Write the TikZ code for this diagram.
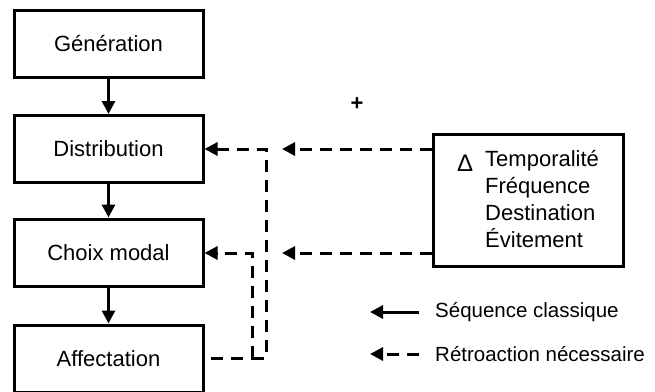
\documentclass[tikz,border=0pt]{standalone}
\usepackage{fontspec}
\setmainfont{Liberation Sans}
\usetikzlibrary{arrows.meta}
\begin{document}
\begin{tikzpicture}[x=1pt,y=-1pt,
  box/.style={draw,line width=3pt,minimum width=189pt,minimum height=67pt,inner sep=0pt,
    font=\fontsize{22}{27}\selectfont},
  solidarr/.style={line width=3pt,-{Triangle[length=13pt,width=13pt]}},
  dasharr/.style={line width=3pt,dash pattern=on 12pt off 8pt,-{Triangle[length=13pt,width=13pt]}},
  dashln/.style={line width=3pt,dash pattern=on 12pt off 8pt},
  legtxt/.style={anchor=west,inner sep=0pt,font=\fontsize{20.5}{24}\selectfont}]
\useasboundingbox (0,0) rectangle (655,391);
\clip (0,0) rectangle (655,391);
\node[box] (gen) at (108.5,43.5) {Génération};
\node[box] (dist) at (108.5,149) {Distribution};
\node[box] (choix) at (108.5,252.5) {Choix modal};
\node[box] (aff) at (108.5,358.5) {Affectation};
\draw[solidarr] (gen) -- (dist);
\draw[solidarr] (dist) -- (choix);
\draw[solidarr] (choix) -- (aff);
\node[draw,line width=3pt,minimum width=190pt,minimum height=132pt,inner sep=0pt] (delta) at (528.5,200.5) {};
\node[anchor=base west,inner sep=0pt] (dsym) at (457,171) {\fontsize{24}{27}\selectfont Δ};
\node[anchor=north west,inner sep=0pt,align=left,font=\fontsize{22}{27}\selectfont] (dtxt) at (485,150) {Temporalité\\Fréquence\\Destination\\Évitement};
\node[inner sep=0pt,font=\bfseries\fontsize{22}{24}\selectfont] (plus) at (357,104) {+};
\coordinate (d1) at (delta.west |- 0,149);
\coordinate (d2) at (delta.west |- 0,253);
\coordinate (e1) at (282,149);
\coordinate (e2) at (282,253);
\draw[dasharr] (d1) -- (e1);
\draw[dasharr] (d2) -- (e2);
\coordinate (a0) at (211,358);
\coordinate (r1) at (252,358);
\coordinate (r2) at (266,358);
\draw[dashln] (a0) -- (r1);
\draw[dasharr] (r1) -- (252,253) -- (choix.east |- 0,253);
\draw[dasharr] (r1) -- (r2) -- (266,149) -- (dist.east |- 0,149);
\coordinate (l1a) at (419,312);
\coordinate (l1b) at (370,312);
\coordinate (l2a) at (419,354);
\coordinate (l2b) at (370,354);
\draw[solidarr] (l1a) -- (l1b);
\draw[dasharr] (l2a) -- (l2b);
\node[legtxt] (lt1) at (435,312) {Séquence classique};
\node[legtxt] (lt2) at (435,354) {Rétroaction nécessaire};
\end{tikzpicture}
\end{document}
